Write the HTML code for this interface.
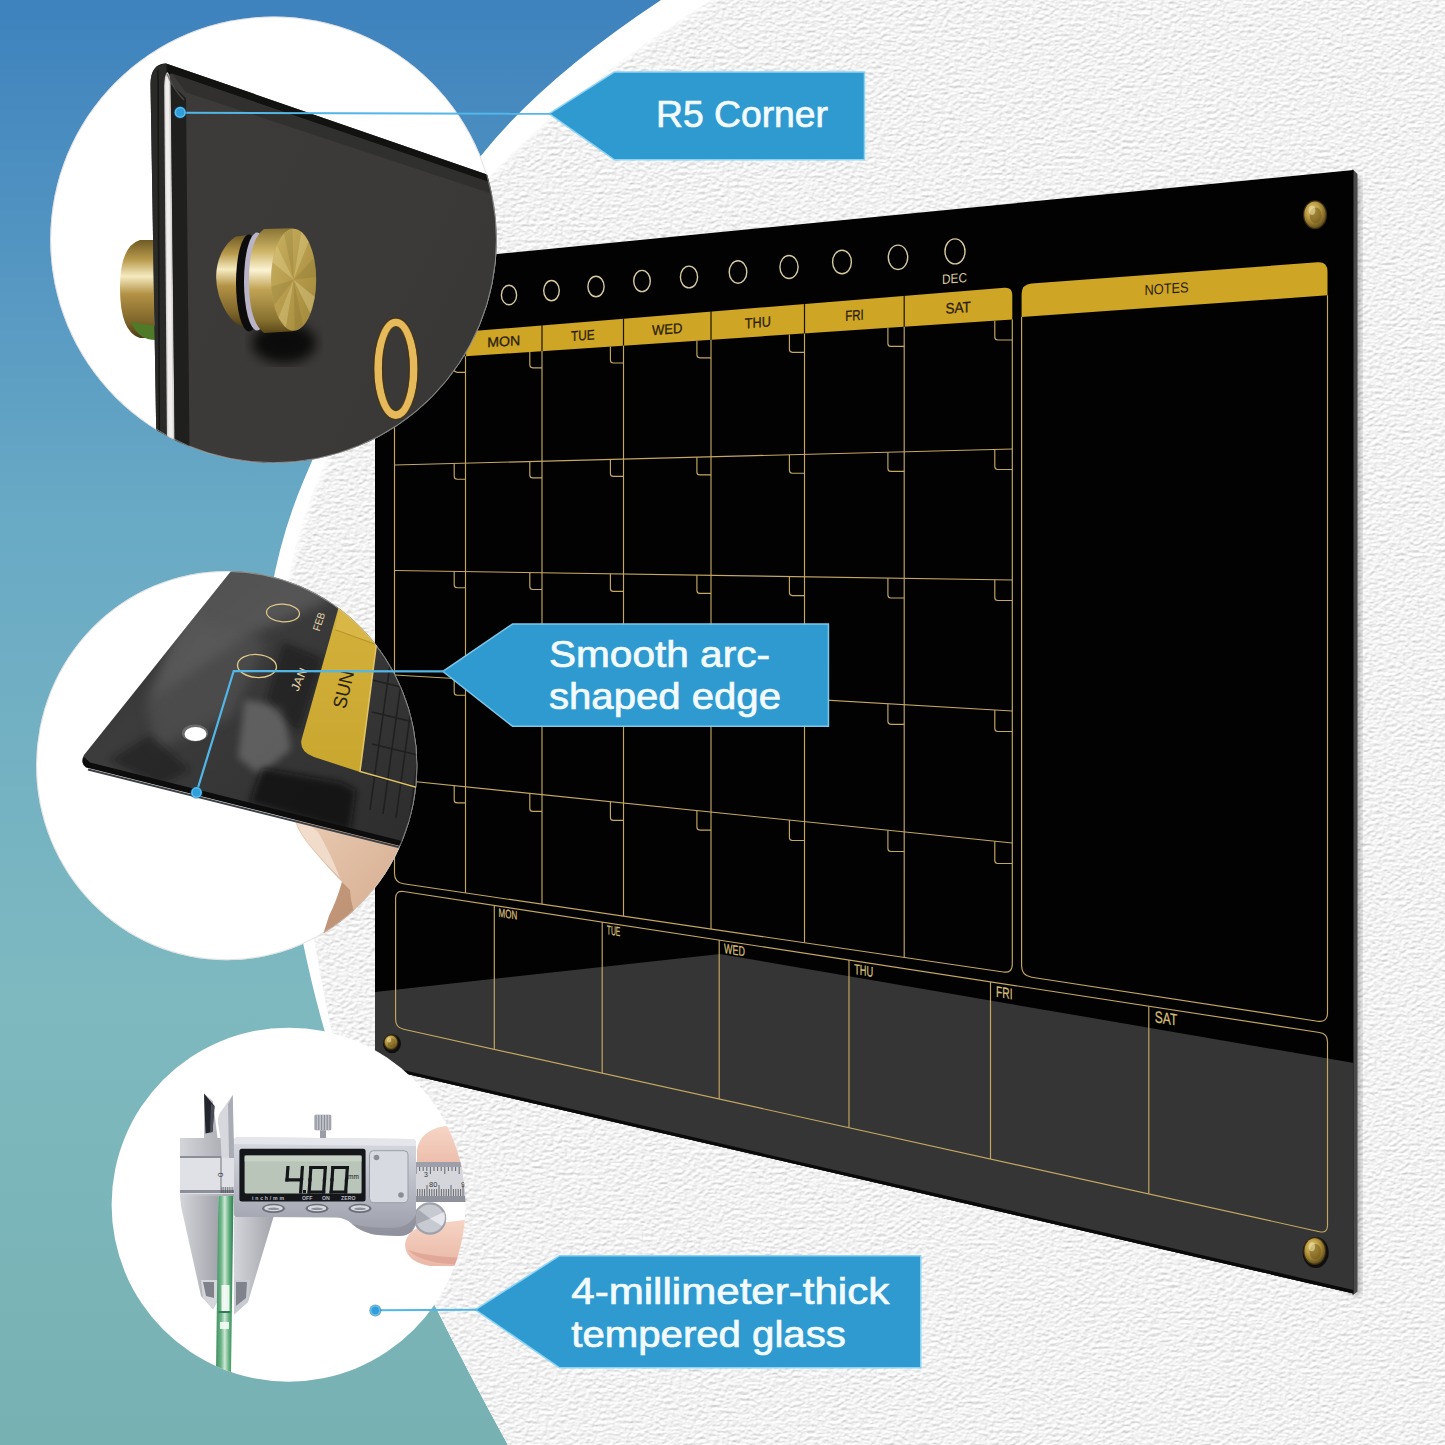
<!DOCTYPE html>
<html><head><meta charset="utf-8"><title>Glass board features</title>
<style>
html,body{margin:0;padding:0;background:#fff;}
body{width:1445px;height:1445px;overflow:hidden;font-family:"Liberation Sans",sans-serif;}
svg{display:block;}
text{font-family:"Liberation Sans",sans-serif;}
</style></head><body>
<svg width="1445" height="1445" viewBox="0 0 1445 1445">
<defs>
<linearGradient id="bgG" x1="0" y1="0" x2="0" y2="1">
<stop offset="0" stop-color="#3e82be"/><stop offset="0.35" stop-color="#68a9c5"/>
<stop offset="0.69" stop-color="#7eb9c0"/><stop offset="1" stop-color="#77b1b2"/>
</linearGradient>
<filter id="wallTex" x="0" y="0" width="100%" height="100%" color-interpolation-filters="sRGB">
<feTurbulence type="fractalNoise" baseFrequency="0.21 0.31" numOctaves="2" seed="7" result="n"/>
<feDiffuseLighting in="n" surfaceScale="1.1" diffuseConstant="1" lighting-color="#ffffff" result="l">
<feDistantLight azimuth="250" elevation="60"/>
</feDiffuseLighting>
<feColorMatrix in="l" type="matrix" values="0.47 0 0 0 0.545  0 0.47 0 0 0.545  0 0 0.47 0 0.545  0 0 0 1 0"/>
<feComposite in2="SourceGraphic" operator="in"/>
</filter>
<filter id="blur2"><feGaussianBlur stdDeviation="2"/></filter>
<filter id="blur3"><feGaussianBlur stdDeviation="3.5"/></filter>
<filter id="blur6"><feGaussianBlur stdDeviation="6"/></filter>
<filter id="blur1"><feGaussianBlur stdDeviation="1"/></filter>
</defs>
<rect width="1445" height="1445" fill="url(#bgG)"/>
<path d="M760,-80 L661,0 Q543.3,77.9 481.8,154.7 Q395,263 303,482 Q237,640 282,830 Q304.4,963.3 324.7,1031 Q365.5,1167 435,1306 Q469.5,1375 508,1445 L545,1512 L1500,1520 L1500,-80 Z" fill="#ffffff"/>
<path d="M815,-80 L711,0 Q575,85.5 493,173 Q404,268 317,482 Q252.8,640 296,830 Q324.8,1006.5 332.4,1032 Q383.2,1201.5 435,1305.5 Q469.5,1375 508,1445 L545,1512 L1500,1520 L1500,-80 Z" fill="#f0f0f0"/>
<path d="M815,-80 L711,0 Q575,85.5 493,173 Q404,268 317,482 Q252.8,640 296,830 Q324.8,1006.5 332.4,1032 Q383.2,1201.5 435,1305.5 Q469.5,1375 508,1445 L545,1512 L1500,1520 L1500,-80 Z" fill="#fff" filter="url(#wallTex)"/>
<path d="M815,-80 L711,0 Q575,85.5 493,173 Q404,268 317,482 Q252.8,640 296,830 " fill="none" stroke="#fff" stroke-width="5" filter="url(#blur2)" opacity="0.9"/>
<defs><clipPath id="boardClip"><polygon points="375.0,266.0 1353.5,170.0 1353.5,1293.5 375.0,1066.6"/></clipPath></defs>
<polygon points="1343.5,178.0 1360.5,178.0 1360.5,1296.5 1343.5,1289.5" fill="#000" opacity="0.28" filter="url(#blur3)"/>
<polygon points="1352.5,169.0 1357.5,174.0 1357.5,1291.5 1352.5,1295.5" fill="#4a4a4a"/>
<polygon points="375.0,266.0 1353.5,170.0 1353.5,1293.5 375.0,1066.6" fill="#020202"/>
<g clip-path="url(#boardClip)">
<polygon points="370.0,992.5 720.0,954.0 1360.0,1064.0 1360.0,1300.0 370.0,1070.0" fill="#353535"/>
<polygon points="375.0,1063.6 1353.5,1290.0 1353.5,1294.0 375.0,1067.1" fill="#0a0a0a"/>
</g>
<path d="M394.5,361.0 L394.5,345.5 Q394.5,337.5 402.5,336.8 L1004.3,287.7 Q1012.3,287.0 1012.3,295.0 L1012.3,319.5 Z" fill="#cfa526"/>
<line x1="465.5" y1="331.2" x2="465.5" y2="356.7" stroke="#1a1200" stroke-width="1.2"/>
<line x1="542" y1="324.9" x2="542" y2="351.6" stroke="#1a1200" stroke-width="1.2"/>
<line x1="623.5" y1="318.3" x2="623.5" y2="346.1" stroke="#1a1200" stroke-width="1.2"/>
<line x1="711" y1="311.1" x2="711" y2="340.2" stroke="#1a1200" stroke-width="1.2"/>
<line x1="804.5" y1="303.5" x2="804.5" y2="334.0" stroke="#1a1200" stroke-width="1.2"/>
<line x1="904.2" y1="295.3" x2="904.2" y2="327.3" stroke="#1a1200" stroke-width="1.2"/>
<g fill="none" stroke="#c4a862" stroke-width="1.15"><path d="M394.5,361.0 L394.5,873.5 Q394.5,882.5 403.5,883.8 L1003.3,972.0 Q1012.3,973.3 1012.3,964.3 L1012.3,319.5"/><line x1="465.5" y1="356.2" x2="465.5" y2="892.9"/><line x1="542" y1="351.1" x2="542" y2="904.2"/><line x1="623.5" y1="345.6" x2="623.5" y2="916.2"/><line x1="711" y1="339.7" x2="711" y2="929.0"/><line x1="804.5" y1="333.5" x2="804.5" y2="942.8"/><line x1="904.2" y1="326.8" x2="904.2" y2="957.4"/><line x1="394.5" y1="465.0" x2="1012.3" y2="449.0"/><line x1="394.5" y1="570.5" x2="1012.3" y2="580.0"/><line x1="394.5" y1="675.0" x2="1012.3" y2="711.0"/><line x1="394.5" y1="779.5" x2="1012.3" y2="843.0"/><path d="M454.2,357.0 L454.2,369.3 Q454.2,372.3 457.2,372.3 L465.5,372.3"/><path d="M529.8,351.9 L529.8,364.8 Q529.8,367.8 532.8,367.8 L542.0,367.8"/><path d="M610.4,346.5 L610.4,360.0 Q610.4,363.0 613.4,363.0 L623.5,363.0"/><path d="M696.9,340.7 L696.9,354.8 Q696.9,357.8 699.9,357.8 L711.0,357.8"/><path d="M789.4,334.5 L789.4,349.3 Q789.4,352.3 792.4,352.3 L804.5,352.3"/><path d="M887.9,327.9 L887.9,343.4 Q887.9,346.4 890.9,346.4 L904.2,346.4"/><path d="M994.8,320.7 L994.8,337.0 Q994.8,340.0 997.8,340.0 L1012.3,340.0"/><path d="M454.2,463.5 L454.2,476.2 Q454.2,479.2 457.2,479.2 L465.5,479.2"/><path d="M529.8,461.5 L529.8,474.9 Q529.8,477.9 532.8,477.9 L542.0,477.9"/><path d="M610.4,459.4 L610.4,473.4 Q610.4,476.4 613.4,476.4 L623.5,476.4"/><path d="M696.9,457.2 L696.9,471.9 Q696.9,474.9 699.9,474.9 L711.0,474.9"/><path d="M789.4,454.8 L789.4,470.2 Q789.4,473.2 792.4,473.2 L804.5,473.2"/><path d="M887.9,452.2 L887.9,468.4 Q887.9,471.4 890.9,471.4 L904.2,471.4"/><path d="M994.8,449.5 L994.8,466.5 Q994.8,469.5 997.8,469.5 L1012.3,469.5"/><path d="M454.2,571.4 L454.2,584.7 Q454.2,587.7 457.2,587.7 L465.5,587.7"/><path d="M529.8,572.6 L529.8,586.5 Q529.8,589.5 532.8,589.5 L542.0,589.5"/><path d="M610.4,573.8 L610.4,588.4 Q610.4,591.4 613.4,591.4 L623.5,591.4"/><path d="M696.9,575.2 L696.9,590.4 Q696.9,593.4 699.9,593.4 L711.0,593.4"/><path d="M789.4,576.6 L789.4,592.6 Q789.4,595.6 792.4,595.6 L804.5,595.6"/><path d="M887.9,578.1 L887.9,595.0 Q887.9,598.0 890.9,598.0 L904.2,598.0"/><path d="M994.8,579.7 L994.8,597.5 Q994.8,600.5 997.8,600.5 L1012.3,600.5"/><path d="M454.2,678.5 L454.2,692.2 Q454.2,695.2 457.2,695.2 L465.5,695.2"/><path d="M529.8,682.9 L529.8,697.3 Q529.8,700.3 532.8,700.3 L542.0,700.3"/><path d="M610.4,687.6 L610.4,702.7 Q610.4,705.7 613.4,705.7 L623.5,705.7"/><path d="M696.9,692.6 L696.9,708.5 Q696.9,711.5 699.9,711.5 L711.0,711.5"/><path d="M789.4,698.0 L789.4,714.7 Q789.4,717.7 792.4,717.7 L804.5,717.7"/><path d="M887.9,703.8 L887.9,721.3 Q887.9,724.3 890.9,724.3 L904.2,724.3"/><path d="M994.8,710.0 L994.8,728.5 Q994.8,731.5 997.8,731.5 L1012.3,731.5"/><path d="M454.2,785.6 L454.2,799.9 Q454.2,802.9 457.2,802.9 L465.5,802.9"/><path d="M529.8,793.4 L529.8,808.4 Q529.8,811.4 532.8,811.4 L542.0,811.4"/><path d="M610.4,801.7 L610.4,817.4 Q610.4,820.4 613.4,820.4 L623.5,820.4"/><path d="M696.9,810.6 L696.9,827.1 Q696.9,830.1 699.9,830.1 L711.0,830.1"/><path d="M789.4,820.1 L789.4,837.5 Q789.4,840.5 792.4,840.5 L804.5,840.5"/><path d="M887.9,830.2 L887.9,848.5 Q887.9,851.5 890.9,851.5 L904.2,851.5"/><path d="M994.8,841.2 L994.8,860.5 Q994.8,863.5 997.8,863.5 L1012.3,863.5"/></g>
<text x="0" y="4.9" font-size="13.6" text-anchor="middle" fill="#2a1e08" stroke="#2a1e08" stroke-width="0.3" textLength="28.0" lengthAdjust="spacingAndGlyphs" transform="translate(430.0 346.6) skewY(-4.26)">SUN</text>
<text x="0" y="5.0" font-size="13.8" text-anchor="middle" fill="#2a1e08" stroke="#2a1e08" stroke-width="0.3" textLength="33.0" lengthAdjust="spacingAndGlyphs" transform="translate(503.8 341.1) skewY(-4.26)">MON</text>
<text x="0" y="5.0" font-size="14.0" text-anchor="middle" fill="#2a1e08" stroke="#2a1e08" stroke-width="0.3" textLength="23.5" lengthAdjust="spacingAndGlyphs" transform="translate(582.8 335.2) skewY(-4.26)">TUE</text>
<text x="0" y="5.1" font-size="14.2" text-anchor="middle" fill="#2a1e08" stroke="#2a1e08" stroke-width="0.3" textLength="30.4" lengthAdjust="spacingAndGlyphs" transform="translate(667.2 328.9) skewY(-4.26)">WED</text>
<text x="0" y="5.2" font-size="14.4" text-anchor="middle" fill="#2a1e08" stroke="#2a1e08" stroke-width="0.3" textLength="26.0" lengthAdjust="spacingAndGlyphs" transform="translate(757.8 322.2) skewY(-4.26)">THU</text>
<text x="0" y="5.3" font-size="14.6" text-anchor="middle" fill="#2a1e08" stroke="#2a1e08" stroke-width="0.3" textLength="18.5" lengthAdjust="spacingAndGlyphs" transform="translate(854.4 315.0) skewY(-4.26)">FRI</text>
<text x="0" y="5.4" font-size="14.9" text-anchor="middle" fill="#2a1e08" stroke="#2a1e08" stroke-width="0.3" textLength="25.3" lengthAdjust="spacingAndGlyphs" transform="translate(958.2 307.3) skewY(-4.26)">SAT</text>
<ellipse cx="509" cy="295" rx="7.6" ry="9.8" fill="none" stroke="#d8caa0" stroke-width="1.4"/>
<ellipse cx="551.5" cy="290.6" rx="7.8" ry="10.1" fill="none" stroke="#d8caa0" stroke-width="1.4"/>
<ellipse cx="596" cy="286.5" rx="8.1" ry="10.3" fill="none" stroke="#d8caa0" stroke-width="1.4"/>
<ellipse cx="642" cy="281" rx="8.3" ry="10.6" fill="none" stroke="#d8caa0" stroke-width="1.4"/>
<ellipse cx="689" cy="277" rx="8.6" ry="10.9" fill="none" stroke="#d8caa0" stroke-width="1.4"/>
<ellipse cx="738" cy="272" rx="8.8" ry="11.2" fill="none" stroke="#d8caa0" stroke-width="1.4"/>
<ellipse cx="789" cy="267" rx="9.1" ry="11.5" fill="none" stroke="#d8caa0" stroke-width="1.4"/>
<ellipse cx="842" cy="262" rx="9.4" ry="11.8" fill="none" stroke="#d8caa0" stroke-width="1.4"/>
<ellipse cx="898" cy="257.3" rx="9.7" ry="12.2" fill="none" stroke="#d8caa0" stroke-width="1.4"/>
<ellipse cx="955" cy="251.4" rx="10.0" ry="12.5" fill="none" stroke="#d8caa0" stroke-width="1.4"/>
<text x="954.5" y="283" font-size="13.5" text-anchor="middle" fill="#d8caa0" textLength="25" lengthAdjust="spacingAndGlyphs" transform="translate(954.5 278) skewY(-4.5) translate(-954.5 -278)">DEC</text>
<path d="M1021.6,317.0 L1021.6,294.2 Q1021.6,284.2 1031.6,283.5 L1317.5,262.3 Q1327.5,261.6 1327.5,271.6 L1327.5,295.3 Z" fill="#cfa526"/>
<path d="M1021.6,317.0 L1021.6,965.7 Q1021.6,975.7 1031.6,977.2 L1317.5,1021.2 Q1327.5,1022.7 1327.5,1012.7 L1327.5,295.3" fill="none" stroke="#c4a862" stroke-width="1.15"/>
<text x="1166.5" y="293.6" font-size="14.5" text-anchor="middle" fill="#2a1e08" textLength="44" lengthAdjust="spacingAndGlyphs" transform="translate(1166.5 288.4) skewY(-4.1) translate(-1166.5 -288.4)">NOTES</text>
<g fill="none" stroke="#c4a862" stroke-width="1.15"><path d="M403.6,891.5 L1319.5,1032.5 Q1327.5,1033.7 1327.5,1041.7 L1327.5,1225.5 Q1327.5,1233.5 1319.5,1231.7 L403.6,1029.3 Q395.6,1027.5 395.6,1019.5 L395.6,898.3 Q395.6,890.3 403.6,891.5Z"/><line x1="494.3" y1="905.5" x2="494.3" y2="1049.3"/><line x1="602.2" y1="922.1" x2="602.2" y2="1073.2"/><line x1="719.2" y1="940.1" x2="719.2" y2="1099.0"/><line x1="849" y1="960.1" x2="849" y2="1127.7"/><line x1="990.5" y1="981.8" x2="990.5" y2="1159.0"/><line x1="1148.8" y1="1006.2" x2="1148.8" y2="1194.0"/></g>
<text x="0" y="0" font-size="12.1" fill="#d6bd78" stroke="#d6bd78" stroke-width="0.3" textLength="18.6" lengthAdjust="spacingAndGlyphs" transform="translate(498.6 916.8) skewY(8.7)">MON</text>
<text x="0" y="0" font-size="12.8" fill="#d6bd78" stroke="#d6bd78" stroke-width="0.3" textLength="13.6" lengthAdjust="spacingAndGlyphs" transform="translate(606.8 934.2) skewY(8.7)">TUE</text>
<text x="0" y="0" font-size="13.6" fill="#d6bd78" stroke="#d6bd78" stroke-width="0.3" textLength="20.8" lengthAdjust="spacingAndGlyphs" transform="translate(724.1 953.1) skewY(8.7)">WED</text>
<text x="0" y="0" font-size="14.4" fill="#d6bd78" stroke="#d6bd78" stroke-width="0.3" textLength="19.0" lengthAdjust="spacingAndGlyphs" transform="translate(854.2 974.0) skewY(8.7)">THU</text>
<text x="0" y="0" font-size="15.3" fill="#d6bd78" stroke="#d6bd78" stroke-width="0.3" textLength="16.5" lengthAdjust="spacingAndGlyphs" transform="translate(996.1 996.8) skewY(8.7)">FRI</text>
<text x="0" y="0" font-size="16.3" fill="#d6bd78" stroke="#d6bd78" stroke-width="0.3" textLength="22.5" lengthAdjust="spacingAndGlyphs" transform="translate(1154.8 1022.3) skewY(8.7)">SAT</text>
<defs><radialGradient id="brassR" cx="0.4" cy="0.35" r="0.75">
<stop offset="0" stop-color="#e7d38a"/><stop offset="0.45" stop-color="#b8983f"/><stop offset="1" stop-color="#4e3b12"/></radialGradient></defs>
<ellipse cx="1316" cy="216.2" rx="13.5" ry="16.0" fill="#000" opacity="0.7"/>
<ellipse cx="1315" cy="214.7" rx="12" ry="14.5" fill="#3a2c10"/>
<ellipse cx="1315" cy="214.7" rx="10.8" ry="13.3" fill="url(#brassR)"/>
<ellipse cx="1315.6" cy="215.42499999999998" rx="6.0" ry="7.9750000000000005" fill="#6e5518" opacity="0.55"/>
<ellipse cx="1312.0" cy="210.35" rx="3.3600000000000003" ry="4.64" fill="#f0e0a0" opacity="0.6"/>
<ellipse cx="1315.7" cy="1252.5" rx="13.0" ry="15.5" fill="#000" opacity="0.7"/>
<ellipse cx="1314.7" cy="1251" rx="11.5" ry="14" fill="#3a2c10"/>
<ellipse cx="1314.7" cy="1251" rx="10.3" ry="12.8" fill="url(#brassR)"/>
<ellipse cx="1315.275" cy="1251.7" rx="5.75" ry="7.700000000000001" fill="#6e5518" opacity="0.55"/>
<ellipse cx="1311.825" cy="1246.8" rx="3.22" ry="4.48" fill="#f0e0a0" opacity="0.6"/>
<ellipse cx="392" cy="1043.8" rx="9.0" ry="9.5" fill="#000" opacity="0.7"/>
<ellipse cx="391" cy="1042.3" rx="7.5" ry="8" fill="#3a2c10"/>
<ellipse cx="391" cy="1042.3" rx="6.3" ry="6.8" fill="url(#brassR)"/>
<ellipse cx="391.375" cy="1042.7" rx="3.75" ry="4.4" fill="#6e5518" opacity="0.55"/>
<ellipse cx="389.125" cy="1039.8999999999999" rx="2.1" ry="2.56" fill="#f0e0a0" opacity="0.6"/>
<path d="M550.5,113.8 L614.5,72.7 L863.7,72.7 L863.7,159 L614.5,159 Z" fill="#2f9ad0" stroke="#86d2f5" stroke-width="3" stroke-linejoin="miter" opacity="0.95"/>
<path d="M550.5,113.8 L614.5,72.7 L863.7,72.7 L863.7,159 L614.5,159 Z" fill="#2f9ad0"/>
<text x="656" y="127.3" font-size="36.5" fill="#f4fbff" stroke="#f4fbff" stroke-width="0.7" textLength="172" lengthAdjust="spacingAndGlyphs">R5 Corner</text>
<path d="M444,671.4 L512.8,624.7 L827.7,624.7 L827.7,725.6 L512.8,725.6 Z" fill="#2f9ad0" stroke="#86d2f5" stroke-width="3" stroke-linejoin="miter" opacity="0.95"/>
<path d="M444,671.4 L512.8,624.7 L827.7,624.7 L827.7,725.6 L512.8,725.6 Z" fill="#2f9ad0"/>
<text x="549" y="666.6" font-size="36.5" fill="#f4fbff" stroke="#f4fbff" stroke-width="0.7" textLength="221" lengthAdjust="spacingAndGlyphs">Smooth arc-</text>
<text x="549" y="709.3" font-size="36.5" fill="#f4fbff" stroke="#f4fbff" stroke-width="0.7" textLength="232" lengthAdjust="spacingAndGlyphs">shaped edge</text>
<path d="M476.6,1309.7 L559.7,1256.6 L920,1256.6 L920,1366.9 L559.7,1366.9 Z" fill="#2f9ad0" stroke="#86d2f5" stroke-width="3" stroke-linejoin="miter" opacity="0.95"/>
<path d="M476.6,1309.7 L559.7,1256.6 L920,1256.6 L920,1366.9 L559.7,1366.9 Z" fill="#2f9ad0"/>
<text x="571.3" y="1304.1" font-size="36.5" fill="#f4fbff" stroke="#f4fbff" stroke-width="0.7" textLength="318" lengthAdjust="spacingAndGlyphs">4-millimeter-thick</text>
<text x="571.3" y="1346.6" font-size="36.5" fill="#f4fbff" stroke="#f4fbff" stroke-width="0.7" textLength="274.5" lengthAdjust="spacingAndGlyphs">tempered glass</text>
<defs><clipPath id="c1"><circle cx="273.5" cy="239.8" r="223.3"/></clipPath>
<linearGradient id="brassH" x1="0" y1="0" x2="0" y2="1">
<stop offset="0" stop-color="#6f5a24"/><stop offset="0.2" stop-color="#b89a4c"/><stop offset="0.37" stop-color="#f5ebc0"/>
<stop offset="0.55" stop-color="#b39245"/><stop offset="0.85" stop-color="#7a6228"/><stop offset="1" stop-color="#4a3a14"/></linearGradient>
<linearGradient id="brassH2" x1="0" y1="0" x2="0" y2="1">
<stop offset="0" stop-color="#8a7434"/><stop offset="0.22" stop-color="#cdb466"/><stop offset="0.4" stop-color="#fbf3d4"/>
<stop offset="0.58" stop-color="#c2a455"/><stop offset="0.88" stop-color="#86702f"/><stop offset="1" stop-color="#5a4718"/></linearGradient>
<linearGradient id="faceG" x1="0" y1="0" x2="1" y2="1">
<stop offset="0" stop-color="#c9b163"/><stop offset="0.5" stop-color="#b59b4b"/><stop offset="1" stop-color="#a08638"/></linearGradient>
<linearGradient id="glass1" x1="0" y1="0" x2="1" y2="0.6">
<stop offset="0" stop-color="#3c3b39"/><stop offset="0.55" stop-color="#3b3a38"/><stop offset="1" stop-color="#353533"/></linearGradient>
</defs>
<circle cx="273.5" cy="239.8" r="223.3" fill="#ffffff"/>
<g clip-path="url(#c1)">
<path d="M154,240 L140,240 Q120,246 120,288 Q120,332 140,338 L154,338 Z" fill="url(#brassH)"/>
<path d="M131,322 Q138,340 156,340 L156,326 Z" fill="#4f7a28"/>
<path d="M150.5,84 Q150.5,64 166,63.5 L600,213.5 L600,600 L159,600 Z" fill="url(#glass1)"/>
<path d="M152,80 Q152,64 166,63.5 L600,213.5 L600,220.0 L172,73.6 Z" fill="#121211"/>
<path d="M172,73.6 L600,220.0 L600,229.5 L186,92.4 Z" fill="#2a2a28" opacity="0.6"/>
<path d="M150.5,84 Q150.5,66 164,64 L166.5,64 L178,600 L159,600 Z" fill="#2a2a28"/>
<path d="M158,70 L160,600" stroke="#161615" stroke-width="1.5"/>
<path d="M164.2,86 Q164.6,74 167.4,72 Q170,74 170.6,86 L176.4,600 L168.2,600 Z" fill="#d6d3d2"/>
<path d="M165.4,86 Q166,77 167.4,75.5 Q168.6,77 169,86 L174.6,600 L169.8,600 Z" fill="#f1efee"/>
<path d="M170.8,84 L186,98 L191,600 L176.4,600 Z" fill="#1f1f1e"/>
<path d="M167,74 Q174,90 184,100" stroke="#55554f" stroke-width="1.5" fill="none" opacity="0.7"/>
<ellipse cx="284" cy="343" rx="32" ry="20" fill="#060606" opacity="0.8" filter="url(#blur6)"/>
<path d="M236,236.5 L248,235 L248,328 L243,326.5 Q228,322 219,296 Q212,272 222,252 Q228,241 236,236.5 Z" fill="url(#brassH)"/>
<ellipse cx="249" cy="283" rx="13" ry="48.5" fill="#0d0c0c"/>
<ellipse cx="257" cy="281.5" rx="13" ry="49" fill="#b9b4c8"/>
<path d="M264,229 L293,228.3 L293,331.3 L264,333 Q249,322 249,281 Q249,240 264,229 Z" fill="url(#brassH2)"/>
<ellipse cx="293.6" cy="279.7" rx="22.6" ry="51" fill="url(#faceG)"/>
<path d="M293.6,279.7 L314.8,297.1 L310.4,313.8 Z" fill="#efe0a0" opacity="0.35"/>
<path d="M293.6,279.7 L303.2,325.9 L294.8,330.6 Z" fill="#7d672a" opacity="0.25"/>
<path d="M293.6,279.7 L285.9,327.6 L278.5,317.6 Z" fill="#efe0a0" opacity="0.3"/>
<path d="M293.6,279.7 L274.0,305.2 L271.2,286.8 Z" fill="#7d672a" opacity="0.22"/>
<path d="M293.6,279.7 L272.4,262.3 L276.8,245.6 Z" fill="#efe0a0" opacity="0.3"/>
<path d="M293.6,279.7 L284.0,233.5 L292.4,228.8 Z" fill="#7d672a" opacity="0.22"/>
<path d="M293.6,279.7 L301.3,231.8 L308.7,241.8 Z" fill="#efe0a0" opacity="0.3"/>
<path d="M293.6,279.7 L314.1,258.1 L316.2,277.0 Z" fill="#7d672a" opacity="0.22"/>
<ellipse cx="395.9" cy="368.7" rx="17.8" ry="46.4" fill="none" stroke="#e6b95a" stroke-width="7.8"/>
<ellipse cx="395.9" cy="368.7" rx="22.2" ry="50.8" fill="none" stroke="#4a3208" stroke-width="1.2" opacity="0.7"/><ellipse cx="395.9" cy="368.7" rx="13.4" ry="42" fill="none" stroke="#4a3208" stroke-width="1.2" opacity="0.7"/>
</g>
<circle cx="273.5" cy="239.8" r="222.9" fill="none" stroke="#c8c8c8" stroke-width="0.9" opacity="0.6"/>
<defs><clipPath id="c2"><ellipse cx="226.7" cy="765.6" rx="190.6" ry="194.6"/></clipPath>
<linearGradient id="glass2" x1="0" y1="0" x2="1" y2="1">
<stop offset="0" stop-color="#2c2c2c"/><stop offset="0.35" stop-color="#3c3c3c"/><stop offset="0.6" stop-color="#363637"/><stop offset="1" stop-color="#2c2c2d"/></linearGradient>
<linearGradient id="tab2" x1="0" y1="0" x2="0" y2="1">
<stop offset="0" stop-color="#d3b03a"/><stop offset="1" stop-color="#c9a72f"/></linearGradient>
<linearGradient id="skin2" x1="0" y1="0" x2="1" y2="1">
<stop offset="0" stop-color="#e9cbb3"/><stop offset="0.6" stop-color="#d9b296"/><stop offset="1" stop-color="#c79a7c"/></linearGradient>
</defs>
<ellipse cx="226.7" cy="765.6" rx="190.6" ry="194.6" fill="#ffffff"/>
<g clip-path="url(#c2)">
<path d="M295,819 Q296,830 313,850 Q330,870 342,882 Q337,900 329,916 L322,938 L430,965 L430,853 L300,819 Z" fill="url(#skin2)"/>
<path d="M342,882 Q337,900 329,916 L322,938 L380,950 Q352,925 350,890 Z" fill="#a8795a" opacity="0.55"/>
<path d="M296,821 Q300,834 314,850 Q326,864 340,878 Q330,852 318,832 Q306,820 296,821Z" fill="#f3dfd0" opacity="0.85"/>
<defs><clipPath id="g2clip"><path d="M240,560 L84,755 Q80,762 86,766 L430,852 L430,560 Z"/></clipPath></defs>
<path d="M240,560 L84,755 Q80,762 86,766 L430,852 L430,560 Z" fill="url(#glass2)"/>
<g clip-path="url(#g2clip)">
<path d="M200,560 L330,560 L330,600 L240,640 L150,700 Z" fill="#6a6a6a" opacity="0.55" filter="url(#blur6)"/>
<path d="M193,616 L266,641 L233,716 L155,750 L146,700 Z" fill="#5c5c5c" opacity="0.5" filter="url(#blur6)"/>
<path d="M244.5,699.7 L282.7,706.3 L291,749.5 L259.5,774.4 L237.9,757.8 Z" fill="#7a7a7a" opacity="0.6" filter="url(#blur3)"/>
<path d="M282.7,641.5 L324,658 L299,733 L266,699.7 Z" fill="#161616" opacity="0.55" filter="url(#blur3)"/>
<path d="M262,768 L340,782 L356,790 L350,832 L249.5,803 Z" fill="#0c0c0c" opacity="0.75" filter="url(#blur3)"/>
<path d="M110,760 L150,735 L190,770 L160,785 Z" fill="#151515" opacity="0.5" filter="url(#blur3)"/>
</g>
<path d="M84,757 Q80,763 86,767.5 L430,853.5 L430,848 L90,762.5 Z" fill="#0c0c0c"/>
<path d="M88,769.5 L430,855" stroke="#3c3f45" stroke-width="2"/>
<g stroke="#1c1c1c" stroke-width="1.6" opacity="0.8"><line x1="392" y1="650" x2="370" y2="810"/><line x1="405" y1="654" x2="383" y2="814"/><line x1="418" y1="658" x2="396" y2="818"/><line x1="431" y1="662" x2="409" y2="822"/><line x1="372" y1="680" x2="430" y2="694"/><line x1="372" y1="712" x2="430" y2="726"/><line x1="372" y1="744" x2="430" y2="758"/><line x1="372" y1="776" x2="430" y2="790"/></g>
<path d="M339,606 L420,640 L376.5,644 L360,772 L314,757 Q298,751 302,738 Z" fill="url(#tab2)"/>
<path d="M339,606 L420,640 L376.5,644 L335.4,629.8 Z" fill="#dcbc50" opacity="0.6"/>
<path d="M335.4,629.8 L376,644.5" stroke="#b8902a" stroke-width="1"/>
<path d="M376.5,644 L360,771.5 L430,791" stroke="#e2c468" stroke-width="1.5" fill="none"/>
<text x="0" y="0" font-size="19" fill="#2a2208" textLength="38" lengthAdjust="spacingAndGlyphs" transform="translate(345.6,709.4) rotate(-77)">SUN</text>
<ellipse cx="257" cy="666" rx="19.5" ry="11.5" fill="none" stroke="#e2c98a" stroke-width="1.3" transform="rotate(4 257 666)"/>
<ellipse cx="283" cy="613" rx="16.5" ry="8.8" fill="none" stroke="#e2c98a" stroke-width="1.2" transform="rotate(4 283 613)"/>
<text font-size="12" fill="#e6d6a8" textLength="24" lengthAdjust="spacingAndGlyphs" transform="translate(298,692) rotate(-66)">JAN</text>
<text font-size="10.5" fill="#e6d6a8" textLength="19" lengthAdjust="spacingAndGlyphs" transform="translate(319.5,631.8) rotate(-72)">FEB</text>
<ellipse cx="195" cy="733" rx="13" ry="8.5" fill="#6c6c6c"/>
<ellipse cx="195.5" cy="734" rx="11" ry="7" fill="#ffffff"/>
</g>
<ellipse cx="226.7" cy="765.6" rx="190.2" ry="194.2" fill="none" stroke="#c8c8c8" stroke-width="0.9" opacity="0.6"/>
<defs><clipPath id="c3"><circle cx="288.6" cy="1204.7" r="177"/></clipPath>
<linearGradient id="steelV" x1="0" y1="0" x2="0" y2="1">
<stop offset="0" stop-color="#d9dbe2"/><stop offset="0.5" stop-color="#b9bcc6"/><stop offset="1" stop-color="#9a9da8"/></linearGradient>
<linearGradient id="steelH" x1="0" y1="0" x2="1" y2="0">
<stop offset="0" stop-color="#c9ccd3"/><stop offset="0.5" stop-color="#aeb1ba"/><stop offset="1" stop-color="#8e919b"/></linearGradient>
<linearGradient id="steelJ" x1="0" y1="0" x2="1" y2="0">
<stop offset="0" stop-color="#d4d5da"/><stop offset="0.5" stop-color="#bcbdc3"/><stop offset="1" stop-color="#a3a5ac"/></linearGradient>
<linearGradient id="glassG" x1="0" y1="0" x2="1" y2="0">
<stop offset="0" stop-color="#3f8f62"/><stop offset="0.3" stop-color="#6fb68a"/><stop offset="0.5" stop-color="#cfe9d6"/><stop offset="0.75" stop-color="#5fae7c"/><stop offset="1" stop-color="#2f7d52"/></linearGradient>
<linearGradient id="skin3" x1="0" y1="0" x2="0" y2="1">
<stop offset="0" stop-color="#f6d5c6"/><stop offset="1" stop-color="#eab8a6"/></linearGradient>
</defs>
<circle cx="288.6" cy="1204.7" r="177" fill="#ffffff"/>
<g clip-path="url(#c3)">
<path d="M417,1150 Q420,1130 445,1126 Q470,1128 480,1150 L480,1172 L417,1168 Z" fill="url(#skin3)"/>
<path d="M405,1245 Q406,1228 432,1224 L480,1218 L480,1266 L430,1266 Q406,1262 405,1245 Z" fill="url(#skin3)"/>
<path d="M408,1250 Q420,1262 450,1264 L480,1266 L480,1258 Q430,1258 408,1250Z" fill="#d99a8c" opacity="0.6"/>
<rect x="413" y="1162" width="70" height="40" fill="#d4d6dc"/>
<rect x="413" y="1162" width="70" height="5" fill="#9da0aa"/>
<rect x="413" y="1196" width="70" height="6" fill="#8f929b"/>
<g stroke="#33353a" stroke-width="0.7"><line x1="415.0" y1="1196" x2="415.0" y2="1185"/><line x1="417.4" y1="1196" x2="417.4" y2="1189"/><line x1="419.8" y1="1196" x2="419.8" y2="1189"/><line x1="422.2" y1="1196" x2="422.2" y2="1189"/><line x1="424.6" y1="1196" x2="424.6" y2="1189"/><line x1="427.0" y1="1196" x2="427.0" y2="1185"/><line x1="429.4" y1="1196" x2="429.4" y2="1189"/><line x1="431.8" y1="1196" x2="431.8" y2="1189"/><line x1="434.2" y1="1196" x2="434.2" y2="1189"/><line x1="436.6" y1="1196" x2="436.6" y2="1189"/><line x1="439.0" y1="1196" x2="439.0" y2="1185"/><line x1="441.4" y1="1196" x2="441.4" y2="1189"/><line x1="443.8" y1="1196" x2="443.8" y2="1189"/><line x1="446.2" y1="1196" x2="446.2" y2="1189"/><line x1="448.6" y1="1196" x2="448.6" y2="1189"/><line x1="451.0" y1="1196" x2="451.0" y2="1185"/><line x1="453.4" y1="1196" x2="453.4" y2="1189"/><line x1="455.8" y1="1196" x2="455.8" y2="1189"/><line x1="458.2" y1="1196" x2="458.2" y2="1189"/><line x1="460.6" y1="1196" x2="460.6" y2="1189"/><line x1="463.0" y1="1196" x2="463.0" y2="1185"/><line x1="465.4" y1="1196" x2="465.4" y2="1189"/><line x1="416.0" y1="1167" x2="416.0" y2="1174"/><line x1="419.6" y1="1167" x2="419.6" y2="1171"/><line x1="423.2" y1="1167" x2="423.2" y2="1171"/><line x1="426.8" y1="1167" x2="426.8" y2="1171"/><line x1="430.4" y1="1167" x2="430.4" y2="1174"/><line x1="434.0" y1="1167" x2="434.0" y2="1171"/><line x1="437.6" y1="1167" x2="437.6" y2="1171"/><line x1="441.2" y1="1167" x2="441.2" y2="1171"/><line x1="444.8" y1="1167" x2="444.8" y2="1174"/><line x1="448.4" y1="1167" x2="448.4" y2="1171"/><line x1="452.0" y1="1167" x2="452.0" y2="1171"/><line x1="455.6" y1="1167" x2="455.6" y2="1171"/><line x1="459.2" y1="1167" x2="459.2" y2="1174"/><line x1="462.8" y1="1167" x2="462.8" y2="1171"/></g>
<text x="424" y="1176.5" font-size="7" fill="#33353a">3</text>
<text x="429" y="1187" font-size="7.5" fill="#33353a">80</text>
<text x="461" y="1187" font-size="7.5" fill="#33353a">9</text>
<circle cx="430" cy="1218.5" r="16.3" fill="#9fa2ab"/>
<circle cx="430" cy="1218.5" r="14" fill="#c8cad1"/>
<path d="M430,1218.5 L444,1212 A14,14 0 0 1 442,1226 Z" fill="#eceef2" opacity="0.8"/>
<path d="M430,1218.5 L417,1224 A14,14 0 0 1 419,1210 Z" fill="#8f929b" opacity="0.6"/>
<path d="M180,1138 L204,1138 L204,1093.6 L213,1101.5 L217.5,1138 L234,1138 L234,1196 L180,1196 Z" fill="url(#steelJ)"/>
<path d="M204,1093.6 L214.5,1106 L212.5,1132 L205.5,1133.5 Z" fill="#23252d"/>
<path d="M211,1104 L214.5,1106 L212.5,1132 L210,1132 Z" fill="#4a4d58"/>
<rect x="180" y="1158" width="54" height="36" fill="#e0e1e6"/>
<rect x="180" y="1156" width="54" height="2" fill="#8c8f98"/>
<rect x="180" y="1190" width="54" height="3" fill="#8c8f98"/>
<path d="M232.6,1095 L219.8,1113.2 Q216.8,1119 218.5,1126 L220.7,1139.8 L221.5,1158 L234,1158 Z" fill="#d6d8de"/>
<path d="M232.8,1095 L228,1104 L229,1158 L234,1158 Z" fill="#a9acb5"/>
<text x="219" y="1175" font-size="8" fill="#33353a" transform="rotate(-90 222 1174)">0</text>
<g stroke="#33353a" stroke-width="0.6"><line x1="222.0" y1="1193" x2="222.0" y2="1187"/><line x1="223.8" y1="1193" x2="223.8" y2="1187"/><line x1="225.6" y1="1193" x2="225.6" y2="1187"/><line x1="227.4" y1="1193" x2="227.4" y2="1187"/><line x1="229.2" y1="1193" x2="229.2" y2="1187"/><line x1="231.0" y1="1193" x2="231.0" y2="1187"/><line x1="232.8" y1="1193" x2="232.8" y2="1187"/></g>
<line x1="221" y1="1158" x2="221" y2="1193" stroke="#55585f" stroke-width="0.8"/>
<path d="M180,1196 L218,1196 L218,1300 L213,1309 L201,1296 L181,1206 Z" fill="url(#steelJ)"/>
<path d="M201,1280 L218,1280 L218,1300 L213,1309 L203,1298 Z" fill="#d5d7dd"/>
<path d="M203,1282 L214,1282 L214,1298 L206,1296 Z" fill="#7f828b"/>
<path d="M234,1217 L273.5,1217 L248,1302 L234,1314.5 Z" fill="url(#steelJ)"/>
<path d="M234,1280 L250,1280 L248,1302 L234,1314.5 Z" fill="#c9cbd2"/>
<path d="M236,1282 L247,1282 L246,1298 L236,1306 Z" fill="#80838c"/>
<path d="M218.3,1196 L233.5,1196 L231,1372 L216,1372 Z" fill="url(#glassG)"/>
<rect x="221.5" y="1285" width="8" height="26" fill="#f4fbf6" opacity="0.9"/>
<rect x="220" y="1322" width="9" height="7" fill="#f4fbf6" opacity="0.9"/>
<rect x="218.5" y="1311" width="12" height="2" fill="#2f7d52"/>
<rect x="320" y="1130" width="6" height="9" fill="#9a9da6"/>
<rect x="314" y="1114.5" width="17.5" height="16" rx="2" fill="#c2c4cb"/>
<g stroke="#7d8089" stroke-width="0.9"><line x1="316.0" y1="1115" x2="316.0" y2="1130"/><line x1="318.8" y1="1115" x2="318.8" y2="1130"/><line x1="321.6" y1="1115" x2="321.6" y2="1130"/><line x1="324.4" y1="1115" x2="324.4" y2="1130"/><line x1="327.2" y1="1115" x2="327.2" y2="1130"/><line x1="330.0" y1="1115" x2="330.0" y2="1130"/></g>
<path d="M238,1137 L412,1139 Q416,1139 416,1143 L416,1222 Q414,1236 398,1236 L378,1235 Q362,1233 352,1224 Q346,1218 336,1217.5 L236,1217 Q234,1217 234,1214 L234,1141 Q234,1137 238,1137 Z" fill="url(#steelV)"/>
<path d="M238,1137 L412,1139 Q416,1139 416,1143 L416,1146 L234,1144 L234,1141 Q234,1137 238,1137 Z" fill="#e4e6ec"/>
<path d="M352,1224 Q362,1233 378,1235 L398,1236 Q414,1236 416,1222 L416,1214 Q410,1228 390,1228 Q368,1228 352,1224Z" fill="#8d909a" opacity="0.8"/>
<rect x="239.4" y="1148.8" width="126.2" height="52.6" rx="2.5" fill="#15161a"/>
<rect x="244.6" y="1155.5" width="117" height="38" rx="1.5" fill="#b9c5b9"/>
<rect x="244.6" y="1155.5" width="117" height="6" fill="#cdd6cc" opacity="0.7"/>
<g stroke="#14161a" stroke-width="3.2" stroke-linecap="square" transform="skewX(-4) translate(84,0)"><line x1="285.5" y1="1167.5" x2="285.5" y2="1179.8"/><line x1="285.5" y1="1179.8" x2="300.0" y2="1179.8"/><line x1="300.0" y1="1167.5" x2="300.0" y2="1179.8"/><line x1="300.0" y1="1179.8" x2="300.0" y2="1192.0"/><line x1="308.5" y1="1167.5" x2="323.0" y2="1167.5"/><line x1="323.0" y1="1167.5" x2="323.0" y2="1179.8"/><line x1="323.0" y1="1179.8" x2="323.0" y2="1192.0"/><line x1="308.5" y1="1192.0" x2="323.0" y2="1192.0"/><line x1="308.5" y1="1179.8" x2="308.5" y2="1192.0"/><line x1="308.5" y1="1167.5" x2="308.5" y2="1179.8"/><line x1="330.5" y1="1167.5" x2="345.0" y2="1167.5"/><line x1="345.0" y1="1167.5" x2="345.0" y2="1179.8"/><line x1="345.0" y1="1179.8" x2="345.0" y2="1192.0"/><line x1="330.5" y1="1192.0" x2="345.0" y2="1192.0"/><line x1="330.5" y1="1179.8" x2="330.5" y2="1192.0"/><line x1="330.5" y1="1167.5" x2="330.5" y2="1179.8"/></g>
<rect x="303" y="1190" width="3" height="3" fill="#14161a"/>
<text x="348" y="1179" font-size="6.5" fill="#14161a">mm</text>
<text x="252" y="1200.3" font-size="5.2" fill="#b9bdc4" font-weight="bold" textLength="32">inch/mm</text>
<text x="302" y="1200.3" font-size="5.2" fill="#b9bdc4" font-weight="bold">OFF</text>
<text x="322" y="1200.3" font-size="5.2" fill="#b9bdc4" font-weight="bold">ON</text>
<text x="341" y="1200.3" font-size="5.2" fill="#b9bdc4" font-weight="bold">ZERO</text>
<rect x="369.5" y="1150.7" width="38.5" height="52" rx="4" fill="#d8dae1" stroke="#9a9da7" stroke-width="1"/>
<circle cx="376.5" cy="1157.5" r="2.8" fill="#8a8d96"/><circle cx="401" cy="1195" r="2.8" fill="#8a8d96"/>
<ellipse cx="273.5" cy="1208.4" rx="11.5" ry="4.6" fill="#6c6f78"/>
<ellipse cx="273.5" cy="1208.2" rx="9.3" ry="3" fill="#d7d9df"/>
<ellipse cx="273.5" cy="1208.8" rx="6" ry="1.3" fill="#8d909a"/>
<ellipse cx="317" cy="1208.4" rx="11.5" ry="4.6" fill="#6c6f78"/>
<ellipse cx="317" cy="1208.2" rx="9.3" ry="3" fill="#d7d9df"/>
<ellipse cx="317" cy="1208.8" rx="6" ry="1.3" fill="#8d909a"/>
<ellipse cx="360" cy="1208.4" rx="11.5" ry="4.6" fill="#6c6f78"/>
<ellipse cx="360" cy="1208.2" rx="9.3" ry="3" fill="#d7d9df"/>
<ellipse cx="360" cy="1208.8" rx="6" ry="1.3" fill="#8d909a"/>
</g>
<path d="M180.2,112.8 L551,113.8" stroke="#52b6e6" stroke-width="2" fill="none"/>
<circle cx="180.2" cy="112.4" r="6.3999999999999995" fill="#0f5580" opacity="0.55"/>
<circle cx="180.2" cy="112.4" r="5.6" fill="#5cc0ee"/>
<circle cx="180.2" cy="112.4" r="4.1" fill="#2f9edb"/>
<path d="M196.5,792.5 L233.7,671 L445,671.4" stroke="#52b6e6" stroke-width="2.2" fill="none"/>
<circle cx="196.5" cy="792.5" r="6.2" fill="#0f5580" opacity="0.55"/>
<circle cx="196.5" cy="792.5" r="5.4" fill="#5cc0ee"/>
<circle cx="196.5" cy="792.5" r="3.9000000000000004" fill="#2f9edb"/>
<path d="M375.3,1310.3 L478,1309.7" stroke="#52b6e6" stroke-width="2" fill="none"/>
<circle cx="375.3" cy="1310.4" r="6.0" fill="#0f5580" opacity="0.55"/>
<circle cx="375.3" cy="1310.4" r="5.2" fill="#5cc0ee"/>
<circle cx="375.3" cy="1310.4" r="3.7" fill="#2f9edb"/>
</svg>
</body></html>
